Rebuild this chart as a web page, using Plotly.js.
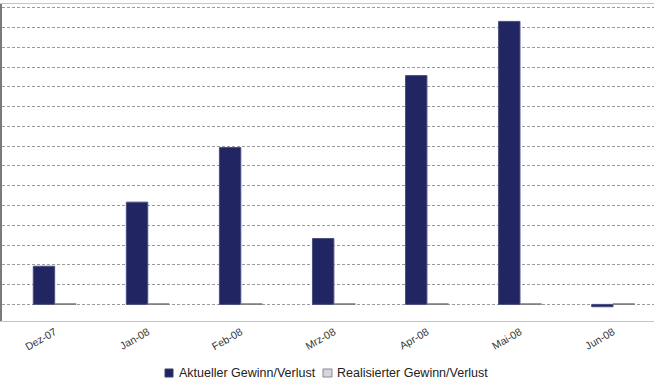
<!DOCTYPE html>
<html>
<head>
<meta charset="utf-8">
<script src="https://cdn.plot.ly/plotly-3.0.1.min.js"></script>
<style>html,body{margin:0;padding:0;background:#fff;}#chart{width:654px;height:384px;}</style>
</head>
<body>
<div id="chart"></div>
<script>
var categories = ["Dez-07", "Jan-08", "Feb-08", "Mrz-08", "Apr-08", "Mai-08", "Jun-08"];
var aktuell = [1.93, 5.17, 7.93, 3.33, 11.57, 14.31, -0.12];
var realisiert = [0.03, 0.03, 0.03, 0.03, 0.03, 0.03, 0.03];
var seriesNames = ["Aktueller Gewinn/Verlust", "Realisierter Gewinn/Verlust"];
var seriesColors = ["#212561", "#d5d5e2"];
var seriesLines = ["#4b4f82", "#7a7a7a"];

var xs = categories.map(function (c, i) { return i; });

var traces = [
  {
    type: "bar", name: seriesNames[0], x: xs, y: aktuell,
    marker: { color: seriesColors[0], line: { color: seriesLines[0], width: 1 } }
  },
  {
    type: "bar", name: seriesNames[1], x: xs, y: realisiert,
    marker: { color: seriesColors[1], line: { color: seriesLines[1], width: 1 } }
  }
];

// legend drawn manually (compact, like the original)
var legX = [[0.2500, 0.2623, 0.2684], [0.4923, 0.5061, 0.5107]];
var shapes = [], annotations = [];
for (var k = 0; k < 2; k++) {
  shapes.push({
    type: "rect", xref: "paper", yref: "paper",
    x0: legX[k][0], x1: legX[k][1], y0: -0.1767, y1: -0.1514,
    fillcolor: seriesColors[k], line: { color: k === 0 ? "#3a3e70" : "#8a8a8a", width: 1 }
  });
  annotations.push({
    xref: "paper", yref: "paper", x: legX[k][2], y: -0.165,
    xanchor: "left", yanchor: "middle", showarrow: false,
    text: seriesNames[k], font: { size: 12.5, color: "#222222" }
  });
}

var layout = {
  width: 654, height: 384,
  margin: { l: 2, r: 0, t: 4, b: 63, pad: 0 },
  paper_bgcolor: "#ffffff", plot_bgcolor: "#ffffff",
  barmode: "group", bargap: 0.54, bargroupgap: 0,
  font: { family: "Liberation Sans, Arial, sans-serif", color: "#333333" },
  showlegend: false,
  xaxis: {
    range: [-0.566, 6.44], tickmode: "array", tickvals: xs, ticktext: categories,
    tickangle: -30, tickfont: { size: 10.5, color: "#333333" },
    showgrid: false, zeroline: false, showline: true, linecolor: "#c4c4c4", linewidth: 1,
    mirror: true, ticks: "", fixedrange: true
  },
  yaxis: {
    range: [-0.84, 15.19], dtick: 1, tick0: 0, showticklabels: false,
    showgrid: true, gridcolor: "#9a9a9a", gridwidth: 1, griddash: "3px,2px",
    zeroline: false, showline: true, linecolor: "#7a7a7a", linewidth: 2, ticks: "", fixedrange: true
  },
  shapes: shapes,
  annotations: annotations
};

Plotly.newPlot("chart", traces, layout, { displayModeBar: false, staticPlot: true });
</script>
</body>
</html>
